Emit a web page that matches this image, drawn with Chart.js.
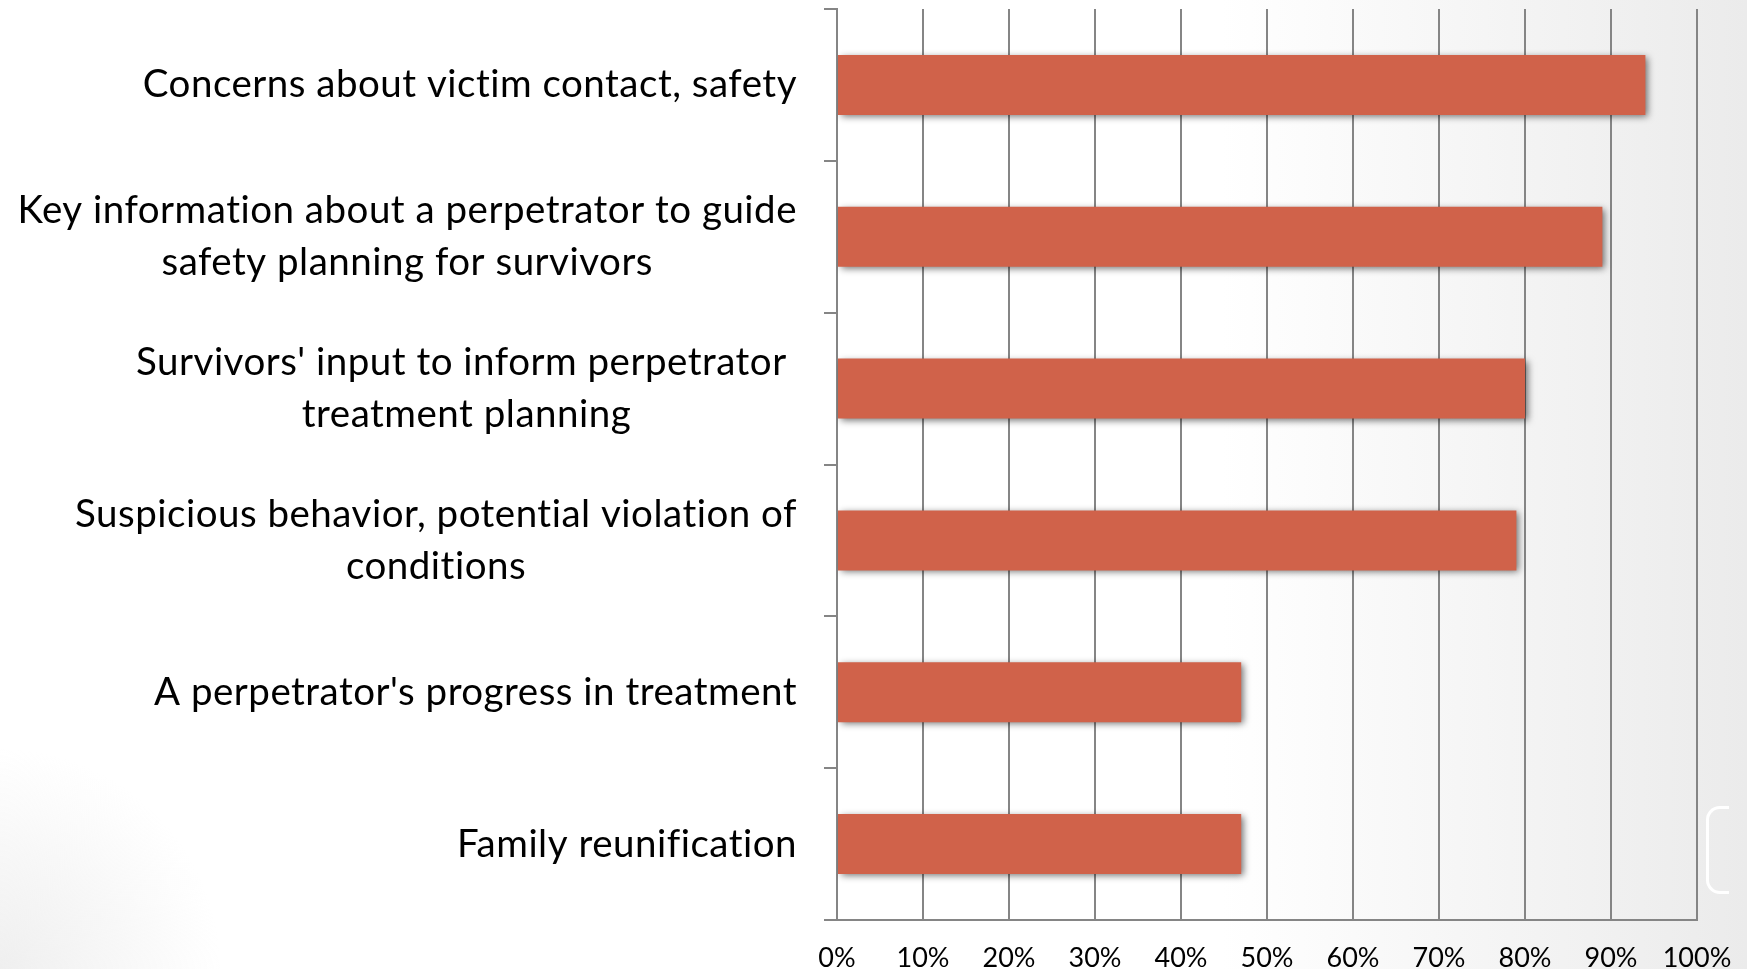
<!DOCTYPE html>
<html><head><meta charset="utf-8">
<script src="https://cdn.jsdelivr.net/npm/chart.js@4.4.1/dist/chart.umd.min.js"></script>
<style>
html,body{margin:0;padding:0;width:1747px;height:969px;overflow:hidden;}
body{background:
  radial-gradient(circle at 0% 100%, #efefef 0px, rgba(255,255,255,0) 220px),
  linear-gradient(to right, #ffffff 0%, #ffffff 70%, #ebebeb 100%);}
#wrap{position:absolute;left:0;top:0;width:1747px;height:996px;}
#slideno{position:absolute;left:1706px;top:806px;width:20px;height:82px;border:3px solid #fff;border-right:none;border-radius:14px 0 0 14px;}
</style></head><body>
<div id="wrap"><canvas id="c" width="1747" height="996"></canvas></div>
<div id="slideno"></div>
<script>
const categories = [
  ["Concerns about victim contact, safety"],
  ["Key information about a perpetrator to guide", "safety planning for survivors"],
  ["Survivors' input to inform perpetrator ", "treatment planning"],
  ["Suspicious behavior, potential violation of", "conditions"],
  ["A perpetrator's progress in treatment"],
  ["Family reunification"]
];
const values = [94, 89, 80, 79, 47, 47];
const tickLabels = ["0%","10%","20%","30%","40%","50%","60%","70%","80%","90%","100%"];

const GRID = '#858585';
const LABEL_FONT = '38.5px Lato';
const LABEL_LINE = 52;
const LABEL_RIGHT = 797;

const shadowPlugin = {
  id: 'barShadow',
  beforeDatasetsDraw(chart) {
    const ctx = chart.ctx;
    ctx.save();
    ctx.shadowColor = 'rgba(0,0,0,0.55)';
    ctx.shadowBlur = 7;
    ctx.shadowOffsetX = 3;
    ctx.shadowOffsetY = 2;
  },
  afterDatasetsDraw(chart) { chart.ctx.restore(); }
};

const labelPlugin = {
  id: 'catLabels',
  afterDraw(chart) {
    const ctx = chart.ctx;
    const ys = chart.scales.y;
    ctx.save();
    ctx.font = LABEL_FONT;
    ctx.letterSpacing = '0.5px';
    ctx.fillStyle = '#000';
    ctx.textAlign = 'center';
    ctx.textBaseline = 'middle';
    categories.forEach((lines, i) => {
      const cy = ys.getPixelForTick(i);
      const w = Math.max(...lines.map(l => ctx.measureText(l).width));
      const cx = LABEL_RIGHT - w / 2;
      const y0 = cy - (lines.length - 1) * LABEL_LINE / 2;
      lines.forEach((l, k) => ctx.fillText(l, cx, y0 + k * LABEL_LINE));
    });
    ctx.restore();
  }
};

new Chart(document.getElementById('c'), {
  type: 'bar',
  data: {
    labels: categories,
    datasets: [{
      data: values,
      backgroundColor: '#D0624A',
      borderWidth: 0,
      categoryPercentage: 1.0,
      barPercentage: 0.395
    }]
  },
  options: {
    indexAxis: 'y',
    responsive: false,
    animation: false,
    devicePixelRatio: 1,
    layout: { padding: { left: 824, right: 50, top: 9, bottom: 0 } },
    plugins: { legend: { display: false }, tooltip: { enabled: false } },
    scales: {
      x: {
        min: 0, max: 100,
        ticks: {
          stepSize: 10,
          padding: 0,
          color: '#000',
          font: { family: 'Lato', size: 27, lineHeight: '76px' },
          callback: (v, i) => tickLabels[i]
        },
        grid: { color: GRID, lineWidth: 2, drawTicks: false },
        border: { display: true, color: GRID, width: 2 }
      },
      y: {
        ticks: { display: false },
        grid: { display: true, drawOnChartArea: false, drawTicks: true, tickLength: 13, color: GRID, lineWidth: 2 },
        border: { display: true, color: GRID, width: 2 }
      }
    }
  },
  plugins: [shadowPlugin, labelPlugin]
});
</script>
</body></html>
